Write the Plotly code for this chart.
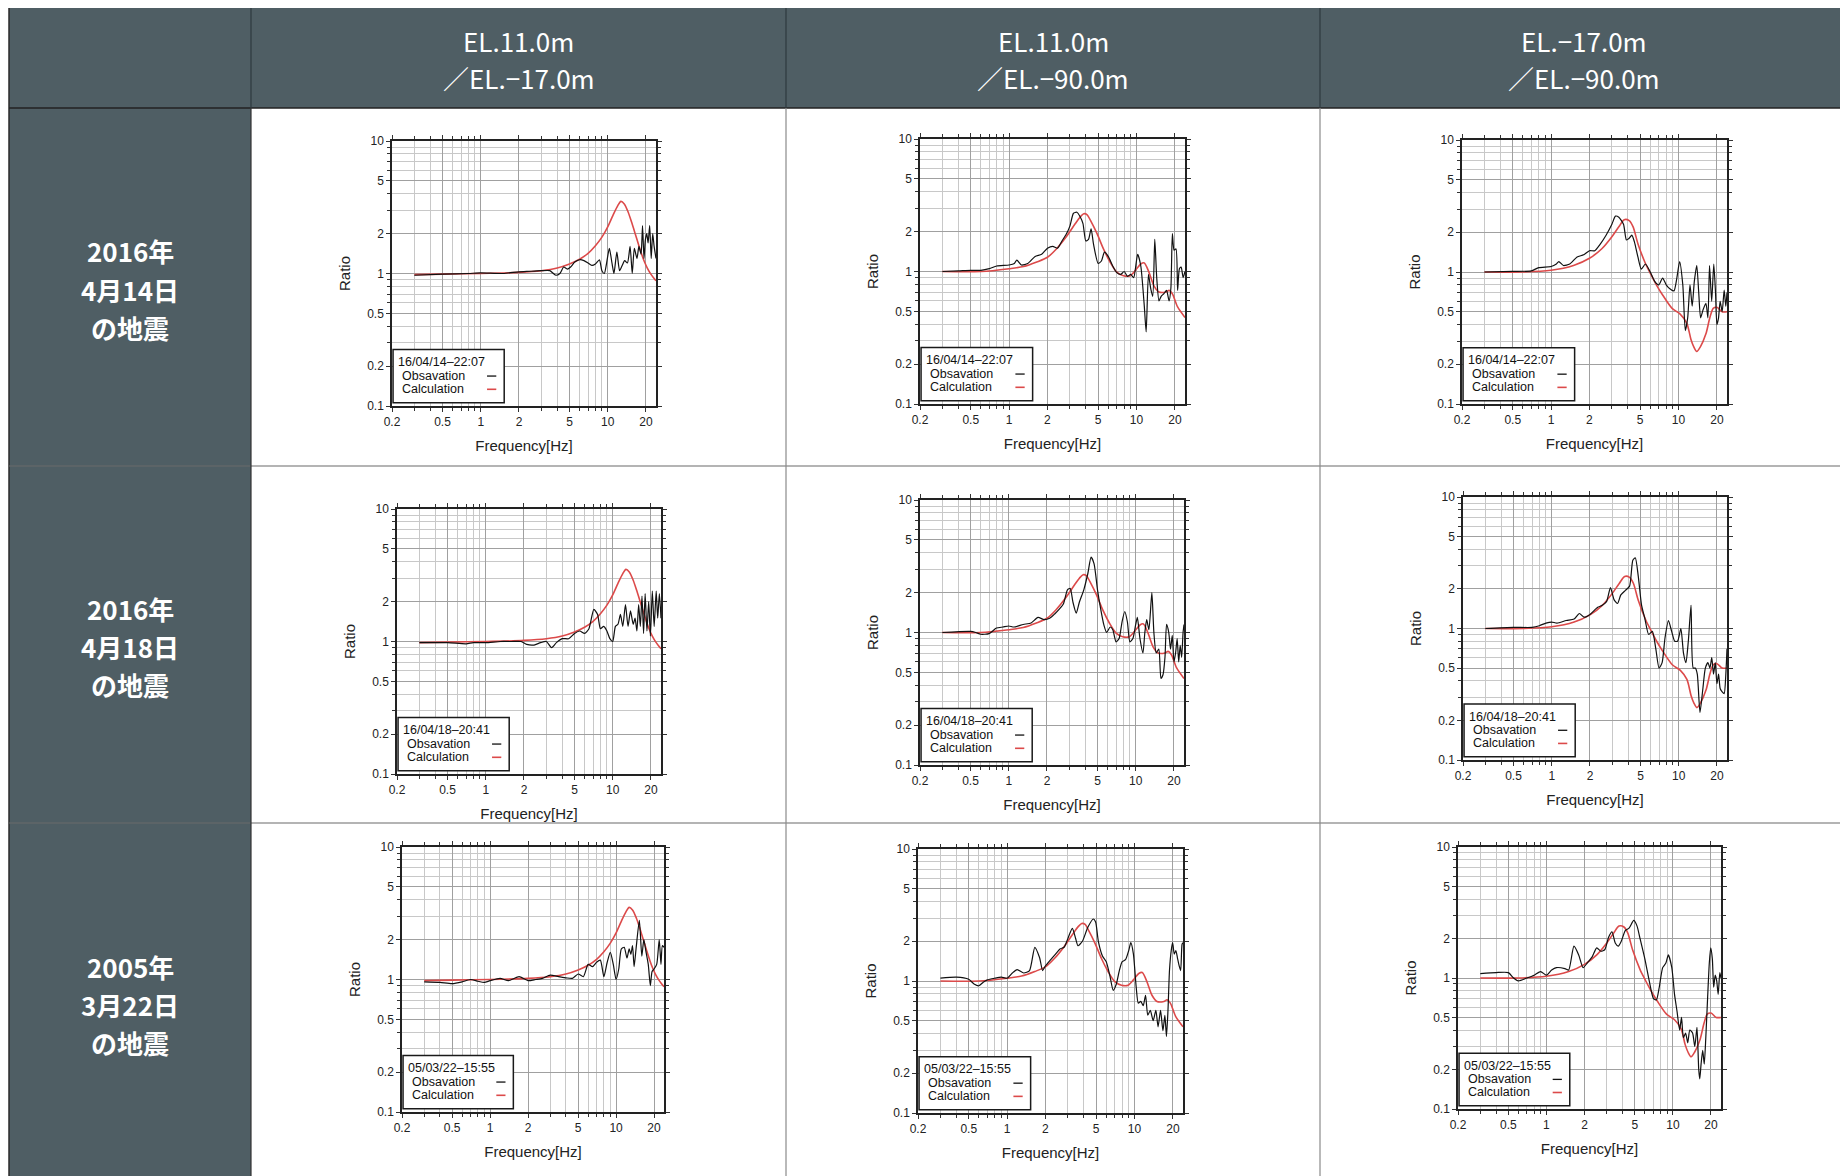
import math
import plotly.graph_objects as go

PAGE_W, PAGE_H = 1848, 1176
OFF = 8  # default page body margin
W, H = PAGE_W - OFF, PAGE_H - OFF

# ---------------- text content ----------------
col_headers = [["EL.11.0m", "／EL.−17.0m"],
               ["EL.11.0m", "／EL.−90.0m"],
               ["EL.−17.0m", "／EL.−90.0m"]]
row_labels = [["2016年", "4月14日", "の地震"],
              ["2016年", "4月18日", "の地震"],
              ["2005年", "3月22日", "の地震"]]
event_ids = ["16/04/14–22:07", "16/04/18–20:41", "05/03/22–15:55"]
obs_name = "Obsavation"
calc_name = "Calculation"
x_title = "Frequency[Hz]"
y_title = "Ratio"
x_tickvals = [0.2, 0.5, 1, 2, 5, 10, 20]
x_ticktext = ["0.2", "0.5", "1", "2", "5", "10", "20"]
x_minorvals = [0.3, 0.4, 0.6, 0.7, 0.8, 0.9, 3, 4, 6, 7, 8, 9]
y_tickvals = [0.1, 0.2, 0.5, 1, 2, 5, 10]
y_ticktext = ["0.1", "0.2", "0.5", "1", "2", "5", "10"]
y_minorvals = [0.3, 0.4, 0.6, 0.7, 0.8, 0.9, 3, 4, 6, 7, 8, 9]

# ---------------- calculation curves (one per column) ----------------
calc_f_c1 = [0.3, 0.5, 1, 2, 3, 4, 5, 6, 7, 8, 9, 10, 11, 12, 12.7, 13.5, 14.5, 15.5,
             16.5, 17.5, 18.5, 19.5, 20.5, 22, 24]
calc_r_c1 = [0.98, 0.99, 1.0, 1.02, 1.05, 1.1, 1.18, 1.28, 1.42, 1.62, 1.88, 2.25, 2.75,
             3.25, 3.5, 3.35, 2.9, 2.4, 1.98, 1.65, 1.4, 1.22, 1.1, 0.98, 0.88]

calc_f_c2 = [0.3, 0.6, 1.0, 1.3, 1.65, 2.0, 2.35, 2.8, 3.3, 3.6, 3.85, 4.1, 4.35, 4.9, 5.5,
             6.2, 7.0, 7.9, 8.9, 9.8, 10.8, 11.5, 12.5, 13.7, 15.0, 17.0, 18.0, 19.1, 21.0, 24]
calc_r_c2 = [1.0, 1.0, 1.05, 1.09, 1.18, 1.28, 1.48, 1.82, 2.29, 2.57, 2.73, 2.68, 2.43, 1.93,
             1.48, 1.18, 0.99, 0.93, 0.93, 1.02, 1.14, 1.16, 0.99, 0.78, 0.70, 0.70, 0.72,
             0.68, 0.54, 0.45]

calc_f_c3 = [0.3, 0.6, 1.0, 1.5, 2.0, 2.5, 3.0, 3.4, 3.75, 4.1, 4.4, 4.8, 5.5, 6.0, 6.7, 7.5,
             8.9, 10.3, 11.6, 12.5, 13.2, 13.9, 14.8, 16.4, 17.6, 18.7, 20.0, 22, 24]
calc_r_c3 = [1.0, 1.0, 1.03, 1.12, 1.27, 1.5, 1.85, 2.2, 2.49, 2.45, 2.2, 1.64, 1.16, 0.98,
             0.8, 0.67, 0.53, 0.48, 0.41, 0.31, 0.27, 0.25, 0.27, 0.34, 0.45, 0.53, 0.54,
             0.5, 0.5]

# ---------------- observation curves (one per panel) ----------------
obs_f_r1c1 = [0.3, 0.5, 0.8, 1.0, 1.5, 1.8, 2.0, 2.5, 3.0, 3.5, 3.9, 4.2, 4.5, 4.8, 5.1, 5.5,
              6.0, 6.5, 7.0, 7.5, 8.0, 8.6, 9.0, 9.4, 9.8, 10.3, 10.8, 11.2, 11.8, 12.4, 13.0,
              13.6, 14.3, 15.0, 15.6, 16.2, 17.0, 17.6, 18.3, 18.8, 19.3, 19.8, 20.3, 20.8,
              21.4, 22.0, 22.6, 23.2, 24.0]
obs_r_r1c1 = [0.97, 0.99, 1.0, 1.01, 1.0, 1.02, 1.03, 1.04, 1.05, 1.05, 0.97, 1.0, 1.12, 1.08,
              1.12, 1.22, 1.27, 1.25, 1.2, 1.15, 1.18, 1.27, 1.05, 1.0, 1.2, 1.55, 1.2, 1.0,
              1.45, 1.05, 1.15, 1.25, 1.2, 1.6, 1.0, 1.55, 1.3, 1.6, 1.4, 2.3, 1.3, 1.8, 2.0,
              1.7, 2.3, 1.3, 2.0, 1.6, 1.3]

obs_f_r1c2 = [0.3, 0.4, 0.5, 0.6, 0.7, 0.8, 1.0, 1.1, 1.15, 1.25, 1.4, 1.6, 1.8, 2.0, 2.2, 2.4,
              2.6, 2.8, 3.0, 3.2, 3.4, 3.6, 3.8, 4.0, 4.2, 4.4, 4.6, 5.0, 5.3, 5.6, 6.0, 6.5,
              7.0, 7.5, 8.0, 8.5, 9.0, 9.5, 10.2, 10.8, 11.5, 11.9, 12.4, 12.9, 13.4, 13.9,
              14.4, 15.0, 15.6, 16.4, 17.2, 18.0, 18.6, 19.1, 19.7, 20.4, 21.0, 21.7, 22.4,
              23.2, 24.0]
obs_r_r1c2 = [1.0, 1.01, 1.02, 1.02, 1.05, 1.1, 1.12, 1.15, 1.22, 1.12, 1.15, 1.3, 1.35, 1.5,
              1.55, 1.5, 1.7, 1.9, 2.2, 2.75, 2.8, 2.6, 2.3, 1.7, 1.75, 2.1, 1.6, 1.15, 1.2,
              1.4, 1.3, 1.1, 0.98, 0.95, 1.0, 0.92, 0.95, 0.9, 1.35, 1.1, 0.55, 0.35, 0.95,
              0.75, 0.65, 1.75, 0.9, 0.6, 0.65, 0.68, 0.72, 0.6, 0.75, 1.93, 1.45, 1.48, 0.72,
              1.05, 1.08, 0.9, 1.0]

obs_f_r1c3 = [0.3, 0.5, 0.7, 0.8, 1.0, 1.1, 1.15, 1.25, 1.4, 1.6, 1.8, 2.0, 2.2, 2.4, 2.7,
              3.0, 3.2, 3.4, 3.7, 3.9, 4.1, 4.3, 4.5, 4.8, 5.1, 5.5, 6.0, 6.5, 7.0, 7.5, 8.0,
              8.5, 9.2, 9.7, 10.2, 10.8, 11.3, 11.8, 12.3, 12.8, 13.3, 13.9, 14.4, 14.9, 15.6,
              16.4, 17.0, 17.5, 18.2, 18.9, 19.5, 20.0, 20.6, 21.2, 22.0, 22.8, 23.5, 24.0]
obs_r_r1c3 = [1.0, 1.01, 1.02, 1.08, 1.1, 1.15, 1.2, 1.12, 1.15, 1.3, 1.35, 1.45, 1.45, 1.6,
              1.9, 2.3, 2.65, 2.6, 2.3, 1.75, 1.8, 1.9, 1.7, 1.3, 1.05, 1.15, 1.0, 0.85, 0.8,
              0.9, 0.8, 0.75, 0.72, 0.9, 1.2, 0.8, 0.36, 0.45, 0.8, 0.55, 0.85, 1.12, 0.7,
              0.45, 0.52, 0.58, 0.45, 1.12, 0.6, 1.15, 0.7, 0.4, 0.45, 0.6, 0.5, 0.73, 0.55,
              0.7]

obs_f_r2c1 = [0.3, 0.5, 0.7, 0.8, 1.0, 1.3, 1.6, 1.9, 2.1, 2.4, 2.7, 3.0, 3.3, 3.6, 4.0, 4.5,
              5.0, 5.5, 6.0, 6.5, 7.1, 7.6, 8.0, 8.5, 9.0, 9.5, 10.0, 10.5, 11.0, 11.5, 12.0,
              12.6, 13.2, 13.8, 14.5, 15.0, 15.5, 16.0, 16.5, 17.0, 17.5, 18.0, 18.6, 19.2,
              19.8, 20.5, 21.2, 22.0, 22.6, 23.3, 24.0]
obs_r_r2c1 = [0.98, 0.98, 0.96, 0.98, 0.98, 1.0, 1.0, 1.0, 0.95, 0.94, 0.98, 1.0, 0.9, 0.98,
              1.05, 1.05, 1.15, 1.2, 1.15, 1.25, 1.75, 1.6, 1.25, 1.3, 1.2, 1.05, 1.0, 1.3,
              1.35, 1.6, 1.3, 1.9, 1.3, 1.7, 1.35, 1.5, 1.2, 1.9, 1.3, 2.2, 1.15, 2.3, 1.2,
              2.0, 1.1, 2.4, 1.3, 2.4, 1.5, 2.3, 1.5]

obs_f_r2c2 = [0.3, 0.5, 0.55, 0.6, 0.7, 0.8, 0.9, 1.0, 1.1, 1.3, 1.5, 1.7, 1.9, 2.1, 2.3, 2.5,
              2.7, 2.9, 3.05, 3.2, 3.4, 3.6, 3.9, 4.2, 4.45, 4.7, 5.0, 5.3, 5.6, 5.9, 6.3,
              6.6, 7.0, 7.4, 7.8, 8.2, 8.6, 9.0, 9.5, 10.0, 10.3, 10.8, 11.4, 11.8, 12.2, 12.7,
              13.4, 13.9, 14.5, 15.2, 15.8, 16.4, 17.0, 17.5, 18.2, 18.8, 19.4, 20.0, 20.6,
              21.2, 21.8, 22.4, 23.0, 23.6, 24.0]
obs_r_r2c2 = [1.0, 1.02, 1.0, 0.97, 0.98, 1.08, 1.1, 1.12, 1.1, 1.15, 1.18, 1.3, 1.25, 1.28,
              1.38, 1.5, 1.65, 2.1, 2.15, 1.7, 1.4, 1.7, 2.1, 2.8, 3.7, 3.3, 2.1, 1.5, 1.15,
              1.0, 1.1, 1.05, 0.85, 0.9, 1.2, 1.44, 1.2, 0.85, 0.9, 1.15, 1.3, 0.9, 0.7, 1.0,
              1.25, 1.05, 2.0, 1.0, 0.7, 0.75, 0.45, 0.48, 0.65, 1.15, 1.0, 0.75, 0.95, 0.6,
              0.7, 0.9, 0.6, 0.8, 0.65, 1.0, 1.15]

obs_f_r2c3 = [0.3, 0.5, 0.7, 0.8, 0.9, 1.0, 1.1, 1.3, 1.5, 1.65, 1.8, 2.0, 2.3, 2.5, 2.7, 2.9,
              3.1, 3.3, 3.5, 3.8, 4.1, 4.35, 4.55, 4.8, 5.1, 5.4, 5.8, 6.2, 6.6, 7.0, 7.4,
              7.8, 8.3, 8.8, 9.3, 9.8, 10.4, 10.9, 11.4, 11.9, 12.5, 13.0, 13.5, 14.0, 14.7,
              15.5, 16.2, 17.0, 17.6, 18.2, 18.8, 19.4, 20.0, 20.6, 21.2, 22.0, 22.8, 23.5,
              24.0]
obs_r_r2c3 = [1.0, 1.02, 1.02, 1.05, 1.1, 1.12, 1.1, 1.15, 1.18, 1.3, 1.22, 1.28, 1.45, 1.5,
              1.6, 2.05, 1.65, 1.55, 1.8, 1.95, 2.1, 3.3, 3.45, 2.5, 1.5, 1.2, 0.9, 0.95, 0.7,
              0.5, 0.55, 0.85, 1.15, 0.95, 0.8, 0.8, 1.0, 0.65, 0.55, 0.8, 1.5, 0.5, 0.5, 0.45,
              0.23, 0.35, 0.5, 0.55, 0.5, 0.6, 0.45, 0.55, 0.38, 0.45, 0.35, 0.33, 0.32, 0.45,
              0.7]

obs_f_r3c1 = [0.3, 0.4, 0.5, 0.6, 0.7, 0.8, 0.9, 1.0, 1.2, 1.4, 1.7, 2.0, 2.3, 2.6, 3.0, 3.5,
              4.0, 4.5, 5.0, 5.5, 6.0, 6.5, 7.0, 7.5, 8.0, 8.5, 9.0, 9.5, 10.0, 10.5, 11.0,
              11.6, 12.2, 12.7, 13.1, 13.5, 13.9, 14.4, 15.3, 16.0, 16.6, 17.3, 18.0, 18.7,
              19.3, 20.0, 21.0, 22.0, 22.7, 23.3, 24.0]
obs_r_r3c1 = [0.96, 0.95, 0.93, 0.96, 1.0, 0.97, 0.95, 0.98, 1.02, 0.98, 1.05, 0.98, 1.0,
              1.02, 1.08, 1.05, 1.03, 1.02, 1.1, 1.05, 1.3, 1.25, 1.35, 1.4, 1.05, 1.35, 1.6,
              1.3, 1.0, 1.2, 1.7, 1.75, 1.45, 1.7, 1.55, 1.8, 1.25, 1.7, 2.8, 1.5, 2.0, 1.6,
              1.3, 0.9, 1.15, 1.2, 1.3, 2.0, 1.3, 1.8, 1.75]

obs_f_r3c2 = [0.3, 0.4, 0.5, 0.55, 0.6, 0.65, 0.7, 0.8, 0.9, 1.0, 1.1, 1.2, 1.35, 1.5, 1.65,
              1.8, 1.9, 2.0, 2.2, 2.4, 2.6, 2.8, 3.0, 3.25, 3.45, 3.6, 3.9, 4.3, 4.75, 4.95,
              5.2, 5.6, 6.0, 6.4, 6.8, 7.2, 7.6, 8.0, 8.5, 9.0, 9.35, 9.8, 10.3, 10.7, 11.2,
              11.7, 12.2, 12.7, 13.3, 14.0, 14.7, 15.3, 16.0, 16.7, 17.3, 17.8, 18.3, 18.8,
              19.4, 19.9, 20.5, 21.1, 21.7, 22.4, 23.0, 23.6, 24.0]
obs_r_r3c2 = [1.05, 1.07, 1.03, 0.95, 0.92, 0.98, 1.02, 1.05, 1.07, 1.05, 1.15, 1.22, 1.15,
              1.2, 1.8, 1.5, 1.2, 1.3, 1.45, 1.6, 1.75, 1.8, 2.1, 2.5, 2.1, 1.85, 2.0, 2.55,
              2.95, 2.8, 2.0, 1.55, 1.4, 1.1, 0.85, 0.95, 1.2, 1.4, 1.45, 1.7, 1.95, 1.6, 0.9,
              0.68, 0.7, 0.65, 0.78, 0.55, 0.6, 0.5, 0.6, 0.45, 0.6, 0.42, 0.55, 0.38, 0.6,
              1.2, 1.7, 1.95, 1.6, 1.7, 1.5, 1.3, 1.2, 1.9, 1.95]

obs_f_r3c3 = [0.3, 0.4, 0.5, 0.55, 0.6, 0.7, 0.8, 0.9, 1.0, 1.1, 1.2, 1.4, 1.5, 1.65, 1.8,
              1.95, 2.1, 2.3, 2.5, 2.7, 2.9, 3.1, 3.3, 3.5, 3.7, 3.9, 4.2, 4.5, 4.9, 5.2, 5.5,
              6.0, 6.5, 7.0, 7.4, 7.8, 8.3, 8.8, 9.2, 9.8, 10.3, 10.8, 11.3, 11.7, 12.1, 12.6,
              13.1, 13.6, 14.3, 14.9, 15.5, 16.0, 16.3, 16.7, 17.2, 17.7, 18.2, 18.8, 19.4,
              19.9, 20.5, 21.0, 21.6, 22.2, 22.8, 23.5, 24.0]
obs_r_r3c3 = [1.08, 1.1, 1.1, 1.0, 0.95, 1.0, 1.05, 1.12, 1.05, 1.15, 1.2, 1.18, 1.15, 1.75,
              1.5, 1.2, 1.3, 1.45, 1.7, 1.6, 1.65, 2.05, 2.25, 1.85, 1.75, 1.9, 2.3, 2.4, 2.75,
              2.5, 2.0, 1.4, 0.95, 0.7, 0.68, 0.85, 1.2, 1.3, 1.5, 1.2, 0.75, 0.55, 0.4, 0.5,
              0.35, 0.38, 0.32, 0.4, 0.38, 0.3, 0.42, 0.2, 0.17, 0.22, 0.28, 0.22, 0.35, 0.7,
              1.3, 1.7, 1.4, 0.85, 1.05, 0.95, 0.75, 1.1, 1.0]

obs_f = [[obs_f_r1c1, obs_f_r1c2, obs_f_r1c3],
         [obs_f_r2c1, obs_f_r2c2, obs_f_r2c3],
         [obs_f_r3c1, obs_f_r3c2, obs_f_r3c3]]
obs_r = [[obs_r_r1c1, obs_r_r1c2, obs_r_r1c3],
         [obs_r_r2c1, obs_r_r2c2, obs_r_r2c3],
         [obs_r_r3c1, obs_r_r3c2, obs_r_r3c3]]
calc_f = [calc_f_c1, calc_f_c2, calc_f_c3]
calc_r = [calc_r_c1, calc_r_c2, calc_r_c3]

# ---------------- layout geometry (page pixels) ----------------
table_left, table_top = 9, 4
col_edges = [251, 786, 1320, PAGE_W]
header_bottom = 108
row_edges = [header_bottom, 466, 823, PAGE_H]
# plot areas [x0, x1, y0(top), y1(bottom)]
plot_px = [[[392, 656, 141, 406], [920, 1185, 139, 404], [1462, 1727, 140, 404]],
           [[397, 661, 509, 774], [920, 1184, 500, 765], [1463, 1727, 497, 760]],
           [[402, 664, 847, 1112], [918, 1183, 849, 1113], [1458, 1721, 847, 1109]]]
header_line_y = [41, 78]
row_label_y = [[251, 289, 327], [608, 646, 684], [966, 1004, 1042]]

HEAD = "#4f5e64"
FONT_JP = "Noto Sans CJK JP"
FONT_PLOT = "Liberation Sans"
RED = "#dc4a4a"


def px(x):
    return (x - OFF) / W


def py(y):
    return 1 - (y - OFF) / H


fig = go.Figure()
shapes = []
annotations = []

# table backgrounds
shapes.append(dict(type="rect", xref="paper", yref="paper", layer="below",
                   x0=px(table_left), x1=1, y0=py(header_bottom), y1=py(table_top),
                   fillcolor=HEAD, line=dict(width=0)))
shapes.append(dict(type="rect", xref="paper", yref="paper", layer="below",
                   x0=px(table_left), x1=px(col_edges[0]), y0=0, y1=py(table_top),
                   fillcolor=HEAD, line=dict(width=0)))
# borders
shapes.append(dict(type="line", xref="paper", yref="paper", x0=px(table_left), x1=1,
                   y0=py(table_top), y1=py(table_top), line=dict(color="#2a2a2a", width=1.5)))
shapes.append(dict(type="line", xref="paper", yref="paper", x0=px(table_left), x1=px(table_left),
                   y0=0, y1=py(table_top), line=dict(color="#2a2a2a", width=1.5)))
shapes.append(dict(type="line", xref="paper", yref="paper", x0=px(table_left), x1=1,
                   y0=py(header_bottom), y1=py(header_bottom), line=dict(color="#222222", width=1.5)))
for yy in row_edges[1:3]:
    shapes.append(dict(type="line", xref="paper", yref="paper", x0=px(table_left), x1=1,
                       y0=py(yy), y1=py(yy), line=dict(color="#6a6a6a", width=1.2)))
for i, xx in enumerate(col_edges[:3]):
    shapes.append(dict(type="line", xref="paper", yref="paper", x0=px(xx), x1=px(xx),
                       y0=py(header_bottom), y1=py(table_top), line=dict(color="#2e3a3e", width=1.2)))
    shapes.append(dict(type="line", xref="paper", yref="paper", x0=px(xx), x1=px(xx),
                       y0=0, y1=py(header_bottom),
                       line=dict(color="#333333" if i == 0 else "#8a8a8a", width=1.2)))

# header texts
for c in range(3):
    cx = (col_edges[c] + col_edges[c + 1]) / 2
    for k, txt in enumerate(col_headers[c]):
        annotations.append(dict(xref="paper", yref="paper", x=px(cx), y=py(header_line_y[k]),
                                text=txt, showarrow=False, xanchor="center", yanchor="middle",
                                font=dict(family=FONT_JP, size=26, color="white")))
# row labels
for r in range(3):
    cx = (table_left + col_edges[0]) / 2
    for k, txt in enumerate(row_labels[r]):
        annotations.append(dict(xref="paper", yref="paper", x=px(cx), y=py(row_label_y[r][k]),
                                text="<b>" + txt + "</b>", showarrow=False,
                                xanchor="center", yanchor="middle",
                                font=dict(family=FONT_JP, size=26, color="white")))

layout_axes = {}
n = 0
for r in range(3):
    for c in range(3):
        n += 1
        xa = "x" if n == 1 else f"x{n}"
        ya = "y" if n == 1 else f"y{n}"
        x0, x1, y0, y1 = plot_px[r][c]
        fig.add_trace(go.Scatter(x=calc_f[c], y=calc_r[c], mode="lines", xaxis=xa, yaxis=ya,
                                 line=dict(color=RED, width=1.6, shape="spline", smoothing=0.8),
                                 showlegend=False, hoverinfo="skip"))
        fig.add_trace(go.Scatter(x=obs_f[r][c], y=obs_r[r][c], mode="lines", xaxis=xa, yaxis=ya,
                                 line=dict(color="#111111", width=1.2, shape="spline", smoothing=0.6),
                                 showlegend=False, hoverinfo="skip"))
        common = dict(type="log", showline=True, linecolor="#222222", linewidth=1.5,
                      mirror="ticks", ticks="outside", ticklen=4, tickwidth=1,
                      tickcolor="#333333", showgrid=True, gridcolor="#a0a0a0", gridwidth=1,
                      zeroline=False, automargin=False, fixedrange=True,
                      tickfont=dict(family=FONT_PLOT, size=12, color="#222222"))
        layout_axes["xaxis" if n == 1 else f"xaxis{n}"] = dict(
            common, domain=[px(x0), px(x1)], anchor=ya,
            range=[math.log10(0.2), math.log10(24)],
            tickmode="array", tickvals=x_tickvals, ticktext=x_ticktext,
            minor=dict(tickmode="array", tickvals=x_minorvals, showgrid=True,
                       gridcolor="#c8c8c8", gridwidth=1, ticks="outside", ticklen=3,
                       tickcolor="#333333"),
            title=dict(text=x_title, standoff=12,
                       font=dict(family=FONT_PLOT, size=15, color="#222222")))
        layout_axes["yaxis" if n == 1 else f"yaxis{n}"] = dict(
            common, domain=[py(y1), py(y0)], anchor=xa,
            range=[-1, 1],
            tickmode="array", tickvals=y_tickvals, ticktext=y_ticktext,
            minor=dict(tickmode="array", tickvals=y_minorvals, showgrid=True,
                       gridcolor="#c8c8c8", gridwidth=1, ticks="outside", ticklen=3,
                       tickcolor="#333333"),
            title=dict(text=y_title, standoff=13,
                       font=dict(family=FONT_PLOT, size=15, color="#222222")))

        # in-plot legend box
        dx = f"{xa} domain"
        dy = f"{ya} domain"
        shapes.append(dict(type="rect", xref=dx, yref=dy, x0=0.004, x1=0.425, y0=0.012, y1=0.213,
                           fillcolor="white", line=dict(color="#1a1a1a", width=1.5), layer="above"))
        annotations.append(dict(xref=dx, yref=dy, x=0.015, y=0.165, text=event_ids[r],
                                showarrow=False, xanchor="left", yanchor="middle",
                                font=dict(family=FONT_PLOT, size=12.5, color="#111111")))
        annotations.append(dict(xref=dx, yref=dy, x=0.03, y=0.113, text=obs_name,
                                showarrow=False, xanchor="left", yanchor="middle",
                                font=dict(family=FONT_PLOT, size=12.5, color="#111111")))
        annotations.append(dict(xref=dx, yref=dy, x=0.03, y=0.063, text=calc_name,
                                showarrow=False, xanchor="left", yanchor="middle",
                                font=dict(family=FONT_PLOT, size=12.5, color="#111111")))
        shapes.append(dict(type="line", xref=dx, yref=dy, x0=0.36, x1=0.395, y0=0.113, y1=0.113,
                           line=dict(color="#111111", width=1.3), layer="above"))
        shapes.append(dict(type="line", xref=dx, yref=dy, x0=0.36, x1=0.395, y0=0.063, y1=0.063,
                           line=dict(color=RED, width=1.6), layer="above"))

fig.update_layout(width=W, height=H, margin=dict(l=0, r=0, t=0, b=0),
                  paper_bgcolor="white", plot_bgcolor="white",
                  shapes=shapes, annotations=annotations, showlegend=False,
                  **layout_axes)

fig.write_html("out.html")
